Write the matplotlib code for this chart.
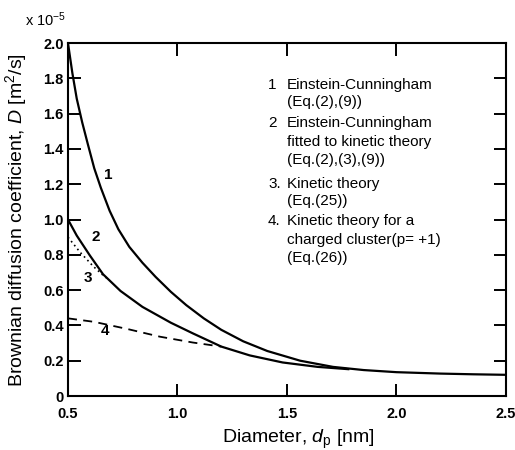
import numpy as np
import matplotlib
matplotlib.use('Agg')
import matplotlib.pyplot as plt

plt.rcParams['font.family'] = ['Liberation Sans', 'DejaVu Sans']
plt.rcParams['mathtext.fontset'] = 'custom'
plt.rcParams['mathtext.rm'] = 'Liberation Sans'
plt.rcParams['mathtext.it'] = 'Liberation Sans:italic'

# values (D in units of 1e-5 m^2/s, d in nm)
d1 = [0.5, 0.52, 0.54, 0.565, 0.59, 0.62, 0.65, 0.69, 0.73, 0.78, 0.84, 0.90,
      0.97, 1.04, 1.12, 1.20, 1.30, 1.41, 1.56, 1.71, 1.85, 2.0, 2.2, 2.35, 2.5]
D1 = [2.0, 1.83, 1.685, 1.55, 1.43, 1.29, 1.18, 1.05, 0.945, 0.845, 0.755, 0.675,
      0.59, 0.515, 0.44, 0.375, 0.31, 0.255, 0.2, 0.165, 0.147, 0.135, 0.127, 0.123, 0.12]

d2 = [0.5, 0.54, 0.6, 0.66, 0.74, 0.84, 0.97, 1.07, 1.2, 1.33, 1.48, 1.64, 1.78]
D2 = [1.0, 0.909, 0.796, 0.69, 0.595, 0.505, 0.415, 0.355, 0.28, 0.23, 0.19, 0.165, 0.152]

d3 = [0.5, 0.555, 0.616, 0.655, 0.69]
D3 = [0.9, 0.815, 0.734, 0.69, 0.655]

d4 = [0.5, 0.62, 0.77, 0.92, 1.07, 1.2]
D4 = [0.44, 0.42, 0.38, 0.336, 0.303, 0.28]

curve_labels = ['1', '2', '3', '4']
label_pos = [(0.682, 1.25), (0.625, 0.90), (0.593, 0.67), (0.67, 0.37)]

legend_lines = [
    ('1', 'Einstein-Cunningham'),
    ('', '(Eq.(2),(9))'),
    ('2', 'Einstein-Cunningham'),
    ('', 'fitted to kinetic theory'),
    ('', '(Eq.(2),(3),(9))'),
    ('3.', 'Kinetic theory'),
    ('', '(Eq.(25))'),
    ('4.', 'Kinetic theory for a'),
    ('', 'charged cluster(p= +1)'),
    ('', '(Eq.(26))'),
]
legend_y = [85, 102, 123, 142, 160, 184, 201, 221, 240, 258]

fig = plt.figure(figsize=(5.15, 4.5), dpi=100)
ax = fig.add_axes([0.132, 0.12, 0.8505, 0.7844])

ax.plot(d1, D1, color='black', lw=1.6)
ax.plot(d2, D2, color='black', lw=1.6)
ax.plot(d3, D3, color='black', lw=1.2, ls=(0, (1, 2)))
ax.plot(d4, D4, color='black', lw=1.3, ls=(0, (5, 3.5)))

for t, (x, y) in zip(curve_labels, label_pos):
    ax.text(x, y, t, fontsize=11, fontweight='bold', ha='center', va='center')

for (num, txt), py in zip(legend_lines, legend_y):
    fy = (450 - py) / 450
    if num:
        fig.text(268 / 515, fy, num, fontsize=11, va='center', ha='left')
    fig.text(287 / 515, fy, txt, fontsize=11, va='center', ha='left')

ax.set_xlim(0.5, 2.5)
ax.set_ylim(0, 2.0)
ax.set_xticks([0.5, 1.0, 1.5, 2.0, 2.5])
ax.set_xticklabels(['0.5', '1.0', '1.5', '2.0', '2.5'])
ax.set_yticks(np.arange(0, 2.01, 0.2))
ax.set_yticklabels(['0', '0.2', '0.4', '0.6', '0.8', '1.0', '1.2', '1.4', '1.6', '1.8', '2.0'])
ax.tick_params(direction='in', length=9, width=1.4, top=True, right=True, labelsize=10.5)
ax.tick_params(axis='x', pad=8)
ax.tick_params(axis='y', pad=3)
for lab in ax.get_xticklabels() + ax.get_yticklabels():
    lab.set_fontweight('bold')
for s in ax.spines.values():
    s.set_linewidth(1.5)

ax.set_xlabel('Diameter, $d_\\mathrm{p}$ [nm]', fontsize=14)
ax.set_ylabel('Brownian diffusion coefficient, $D$ [m$^2$/s]', fontsize=14)
ax.xaxis.set_label_coords(0.525, -0.09)
ax.yaxis.set_label_coords(-0.09, 0.5)
fig.text(25 / 515, (450 - 20) / 450, 'x 10$^{-5}$', fontsize=10.5, va='center', ha='left')

fig.savefig('out.png', dpi=100)
